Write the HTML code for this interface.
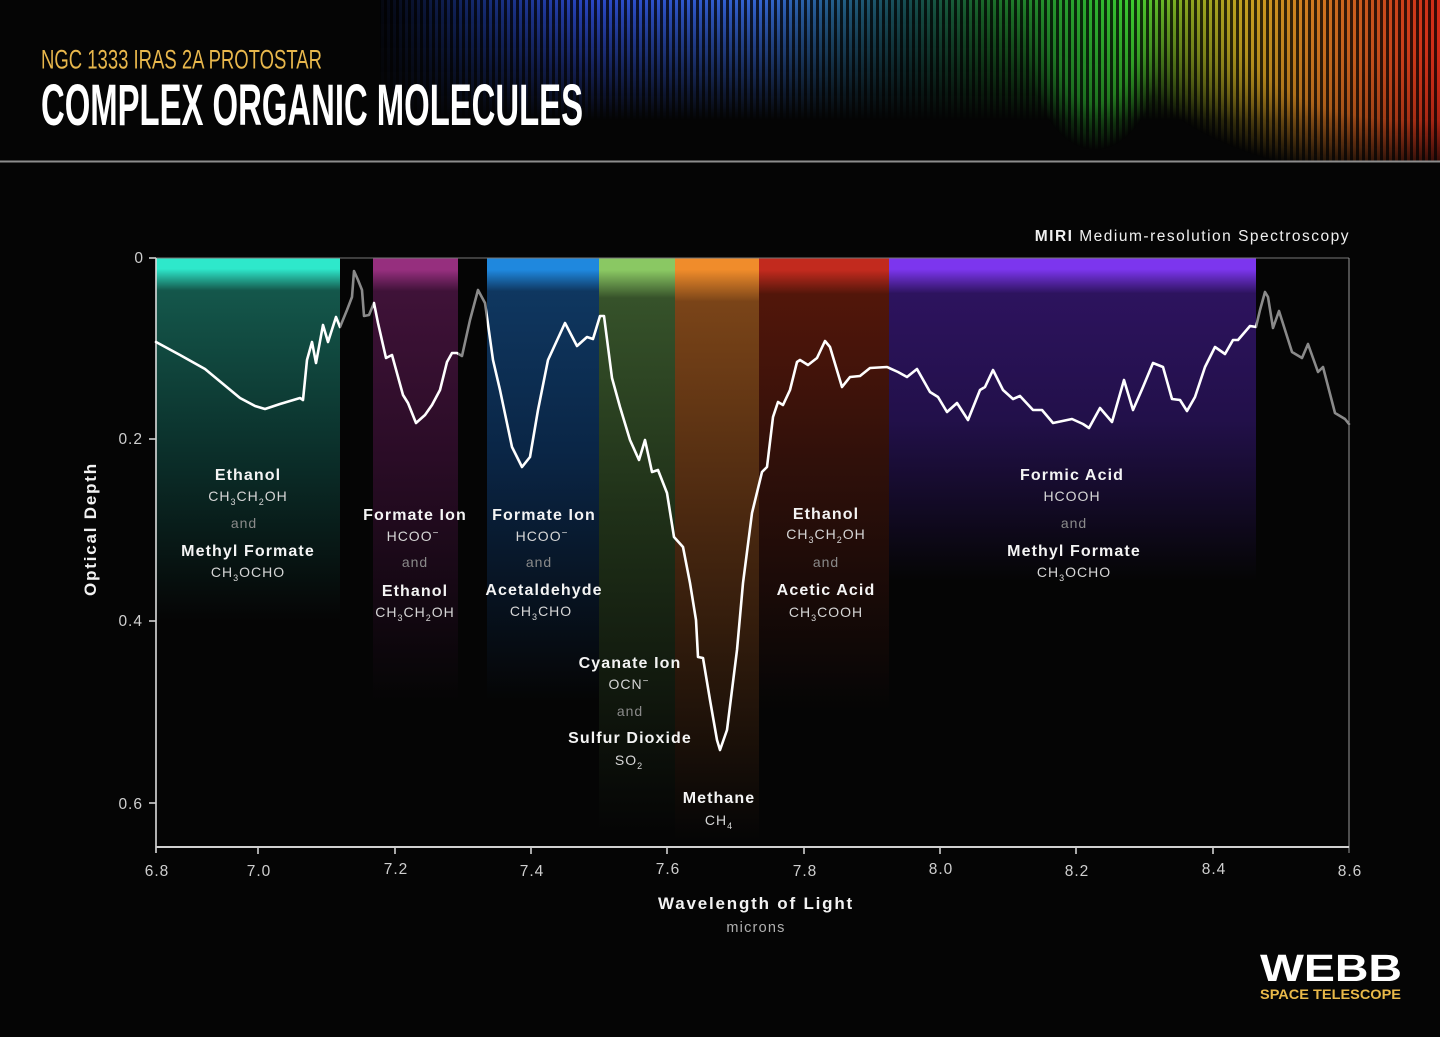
<!DOCTYPE html>
<html><head><meta charset="utf-8"><style>
html,body{margin:0;padding:0;background:#050505;}
svg{display:block;}
text{font-family:"Liberation Sans",Arial,sans-serif;}
.nm{font-size:16px;font-weight:bold;fill:#f4f4f4;letter-spacing:1.1px;text-anchor:middle;}
.fm{font-size:14px;fill:#d6d6d6;letter-spacing:1px;text-anchor:middle;}
.an{font-size:14px;fill:#8a8a8a;letter-spacing:1px;text-anchor:middle;}
.tk{font-size:15.5px;fill:#cfcfcf;letter-spacing:1px;}
</style></head><body>
<svg width="1440" height="1037" viewBox="0 0 1440 1037" xmlns="http://www.w3.org/2000/svg">
<defs>
  <linearGradient id="spec" x1="380" y1="0" x2="1440" y2="0" gradientUnits="userSpaceOnUse">
    <stop offset="0" stop-color="#05070f"/>
    <stop offset="0.09" stop-color="#142a70"/>
    <stop offset="0.2" stop-color="#2a48c8"/>
    <stop offset="0.36" stop-color="#3466d4"/>
    <stop offset="0.43" stop-color="#24608c"/>
    <stop offset="0.5" stop-color="#164e50"/>
    <stop offset="0.57" stop-color="#1a6a2a"/>
    <stop offset="0.67" stop-color="#2cb030"/>
    <stop offset="0.71" stop-color="#3ccc30"/>
    <stop offset="0.76" stop-color="#8aa820"/>
    <stop offset="0.82" stop-color="#c8a020"/>
    <stop offset="0.88" stop-color="#d27a20"/>
    <stop offset="0.94" stop-color="#c8501c"/>
    <stop offset="1" stop-color="#d42a18"/>
  </linearGradient>
  <pattern id="stripes" x="0" y="0" width="6" height="10" patternUnits="userSpaceOnUse">
    <rect x="0" y="0" width="3" height="10" fill="#000" opacity="0.75"/>
  </pattern>
  <linearGradient id="vfade" x1="0" y1="0" x2="0" y2="120" gradientUnits="userSpaceOnUse">
    <stop offset="0" stop-color="#fff" stop-opacity="1"/>
    <stop offset="0.45" stop-color="#fff" stop-opacity="0.55"/>
    <stop offset="1" stop-color="#fff" stop-opacity="0"/>
  </linearGradient>
  <radialGradient id="rg1" cx="0.5" cy="0.5" r="0.5">
    <stop offset="0" stop-color="#fff" stop-opacity="1"/>
    <stop offset="0.6" stop-color="#fff" stop-opacity="0.8"/>
    <stop offset="1" stop-color="#fff" stop-opacity="0"/>
  </radialGradient>
  <mask id="specMask" maskUnits="userSpaceOnUse" x="0" y="0" width="1440" height="161">
    <rect x="0" y="0" width="1440" height="161" fill="url(#vfade)"/>
    <ellipse cx="1420" cy="30" rx="300" ry="150" fill="url(#rg1)"/>
    <ellipse cx="1095" cy="30" rx="70" ry="120" fill="url(#rg1)" opacity="0.7"/>
  </mask>

  <linearGradient id="gTeal" x1="0" y1="258" x2="0" y2="620" gradientUnits="userSpaceOnUse">
    <stop offset="0" stop-color="#2ee8cb"/>
    <stop offset="0.03" stop-color="#2ee8cb"/>
    <stop offset="0.09" stop-color="#14574b"/>
    <stop offset="0.53" stop-color="#0b302b"/>
    <stop offset="1" stop-color="#050505"/>
  </linearGradient>
  <linearGradient id="gMag" x1="0" y1="258" x2="0" y2="700" gradientUnits="userSpaceOnUse">
    <stop offset="0" stop-color="#962f7e"/>
    <stop offset="0.027" stop-color="#962f7e"/>
    <stop offset="0.075" stop-color="#3f1238"/>
    <stop offset="0.45" stop-color="#2a0c26"/>
    <stop offset="1" stop-color="#050505"/>
  </linearGradient>
  <linearGradient id="gBlue" x1="0" y1="258" x2="0" y2="700" gradientUnits="userSpaceOnUse">
    <stop offset="0" stop-color="#1f88de"/>
    <stop offset="0.027" stop-color="#1f88de"/>
    <stop offset="0.075" stop-color="#0f3760"/>
    <stop offset="0.45" stop-color="#0a2545"/>
    <stop offset="1" stop-color="#050505"/>
  </linearGradient>
  <linearGradient id="gGreen" x1="0" y1="258" x2="0" y2="830" gradientUnits="userSpaceOnUse">
    <stop offset="0" stop-color="#8ac863"/>
    <stop offset="0.021" stop-color="#8ac863"/>
    <stop offset="0.07" stop-color="#36522a"/>
    <stop offset="0.45" stop-color="#1f3018"/>
    <stop offset="1" stop-color="#050505"/>
  </linearGradient>
  <linearGradient id="gOrange" x1="0" y1="258" x2="0" y2="840" gradientUnits="userSpaceOnUse">
    <stop offset="0" stop-color="#f08c2b"/>
    <stop offset="0.02" stop-color="#f08c2b"/>
    <stop offset="0.075" stop-color="#7a4418"/>
    <stop offset="0.45" stop-color="#4a2810"/>
    <stop offset="1" stop-color="#050505"/>
  </linearGradient>
  <linearGradient id="gRed" x1="0" y1="258" x2="0" y2="710" gradientUnits="userSpaceOnUse">
    <stop offset="0" stop-color="#c22a1e"/>
    <stop offset="0.027" stop-color="#c22a1e"/>
    <stop offset="0.08" stop-color="#52160a"/>
    <stop offset="0.45" stop-color="#30100a"/>
    <stop offset="1" stop-color="#050505"/>
  </linearGradient>
  <linearGradient id="gPurple" x1="0" y1="258" x2="0" y2="580" gradientUnits="userSpaceOnUse">
    <stop offset="0" stop-color="#7c36ee"/>
    <stop offset="0.035" stop-color="#7c36ee"/>
    <stop offset="0.11" stop-color="#2d135e"/>
    <stop offset="0.5" stop-color="#22104a"/>
    <stop offset="1" stop-color="#050505"/>
  </linearGradient>

  <clipPath id="cWhite">
    <rect x="150" y="200" width="190" height="700"/>
    <rect x="373" y="200" width="85" height="700"/>
    <rect x="487" y="200" width="769" height="700"/>
  </clipPath>
  <clipPath id="cGray">
    <rect x="340" y="200" width="33" height="700"/>
    <rect x="458" y="200" width="29" height="700"/>
    <rect x="1256" y="200" width="100" height="700"/>
  </clipPath>
</defs>

<rect x="0" y="0" width="1440" height="1037" fill="#050505"/>

<!-- header spectrum -->
<g mask="url(#specMask)">
  <rect x="380" y="0" width="1060" height="161" fill="url(#spec)"/>
  <rect x="380" y="0" width="1060" height="161" fill="url(#stripes)"/>
</g>
<rect x="0" y="160.5" width="1440" height="2" fill="#8d8d8d"/>

<text x="41" y="68.5" font-size="27" fill="#e8b74c" textLength="281" lengthAdjust="spacingAndGlyphs">NGC 1333 IRAS 2A PROTOSTAR</text>
<text x="41" y="125" font-size="58" font-weight="bold" fill="#ffffff" textLength="542" lengthAdjust="spacingAndGlyphs">COMPLEX ORGANIC MOLECULES</text>

<!-- bands -->
<rect x="156" y="258" width="184" height="600" fill="url(#gTeal)"/>
<rect x="373" y="258" width="85" height="600" fill="url(#gMag)"/>
<rect x="487" y="258" width="112" height="600" fill="url(#gBlue)"/>
<rect x="599" y="258" width="76" height="600" fill="url(#gGreen)"/>
<rect x="675" y="258" width="84" height="600" fill="url(#gOrange)"/>
<rect x="759" y="258" width="130" height="600" fill="url(#gRed)"/>
<rect x="889" y="258" width="367" height="600" fill="url(#gPurple)"/>
<rect x="156" y="846" width="1200" height="20" fill="#050505"/>

<!-- frame -->
<line x1="156" y1="258" x2="1349" y2="258" stroke="#777" stroke-width="1"/>
<line x1="1349" y1="258" x2="1349" y2="853" stroke="#999" stroke-width="1"/>
<line x1="156" y1="258" x2="156" y2="853" stroke="#dcdcdc" stroke-width="1.6"/>
<line x1="156" y1="847" x2="1349" y2="847" stroke="#d0d0d0" stroke-width="2"/>
<g stroke="#d0d0d0" stroke-width="1.6">
  <line x1="149" y1="258" x2="156" y2="258"/>
  <line x1="149" y1="439" x2="156" y2="439"/>
  <line x1="149" y1="621" x2="156" y2="621"/>
  <line x1="149" y1="803" x2="156" y2="803"/>
  <line x1="258" y1="847" x2="258" y2="854"/>
  <line x1="395" y1="847" x2="395" y2="854"/>
  <line x1="531" y1="847" x2="531" y2="854"/>
  <line x1="667" y1="847" x2="667" y2="854"/>
  <line x1="804" y1="847" x2="804" y2="854"/>
  <line x1="940" y1="847" x2="940" y2="854"/>
  <line x1="1076" y1="847" x2="1076" y2="854"/>
  <line x1="1213" y1="847" x2="1213" y2="854"/>
</g>

<!-- y tick labels -->
<g class="tk" text-anchor="end">
  <text x="144" y="263">0</text>
  <text x="143" y="444">0.2</text>
  <text x="143" y="626">0.4</text>
  <text x="143" y="809">0.6</text>
</g>
<!-- x tick labels -->
<g class="tk" text-anchor="middle">
  <text x="157" y="876">6.8</text>
  <text x="259" y="876">7.0</text>
  <text x="396" y="874">7.2</text>
  <text x="532" y="876">7.4</text>
  <text x="668" y="874">7.6</text>
  <text x="805" y="876">7.8</text>
  <text x="941" y="874">8.0</text>
  <text x="1077" y="876">8.2</text>
  <text x="1214" y="874">8.4</text>
  <text x="1350" y="876">8.6</text>
</g>

<text transform="translate(96,529) rotate(-90)" x="0" y="0" text-anchor="middle" font-size="17" font-weight="bold" fill="#f2f2f2" letter-spacing="1.8">Optical Depth</text>
<text x="756" y="909" text-anchor="middle" font-size="17" font-weight="bold" fill="#f2f2f2" letter-spacing="1.8">Wavelength of Light</text>
<text x="756" y="932" text-anchor="middle" font-size="14.5" fill="#b0b0b0" letter-spacing="1.2">microns</text>

<text x="1350" y="241" text-anchor="end" font-size="15.5" fill="#f0f0f0" letter-spacing="1.5"><tspan font-weight="bold">MIRI</tspan> Medium-resolution Spectroscopy</text>

<!-- curve -->
<g fill="none" stroke-width="2.6" stroke-linejoin="round" stroke-linecap="round">
<polyline clip-path="url(#cWhite)" stroke="#ffffff" points="156,342 180,355 205,369 240,398 255,406 265,409 280,404 300,398 303,400 307,360 312,342 316,363 323,325 328,342 336,317 340,327 347,310 352,297 354,271 358,280 362,290 364,316 369,315 374,303 378,323 386,358 392,355 403,395 408,403 416,423 425,415 432,405 440,390 447,362 452,353 457,353 462,356 470,320 478,290 485,303 487,317 493,360 500,390 512,447 522,467 530,457 538,410 548,360 565,323 577,346 587,337 593,339 600,316 604,316 612,378 620,407 630,440 639,460 645,440 652,472 658,470 667,493 674,537 683,547 690,583 696,620 698,657 703,658 710,700 717,740 720,750 727,730 737,650 743,583 752,513 762,472 767,467 773,417 778,402 783,405 790,390 797,362 800,360 808,365 817,358 825,341 830,347 842,387 850,377 860,376 870,368 887,367 898,372 907,377 917,369 930,392 938,397 947,412 957,403 968,420 980,390 985,387 993,370 1003,390 1013,399 1020,396 1033,410 1042,410 1053,423 1072,419 1083,424 1089,428 1100,408 1112,422 1124,380 1133,410 1143,387 1153,363 1163,367 1172,399 1180,400 1187,411 1195,397 1205,367 1215,347 1225,354 1233,340 1238,340 1250,326 1256,327 1260,310 1265,292 1268,297 1273,328 1279,311 1292,352 1302,358 1308,344 1318,372 1323,367 1335,413 1345,419 1349,424"/>
<polyline clip-path="url(#cGray)" stroke="#8a8a8a" points="156,342 180,355 205,369 240,398 255,406 265,409 280,404 300,398 303,400 307,360 312,342 316,363 323,325 328,342 336,317 340,327 347,310 352,297 354,271 358,280 362,290 364,316 369,315 374,303 378,323 386,358 392,355 403,395 408,403 416,423 425,415 432,405 440,390 447,362 452,353 457,353 462,356 470,320 478,290 485,303 487,317 493,360 500,390 512,447 522,467 530,457 538,410 548,360 565,323 577,346 587,337 593,339 600,316 604,316 612,378 620,407 630,440 639,460 645,440 652,472 658,470 667,493 674,537 683,547 690,583 696,620 698,657 703,658 710,700 717,740 720,750 727,730 737,650 743,583 752,513 762,472 767,467 773,417 778,402 783,405 790,390 797,362 800,360 808,365 817,358 825,341 830,347 842,387 850,377 860,376 870,368 887,367 898,372 907,377 917,369 930,392 938,397 947,412 957,403 968,420 980,390 985,387 993,370 1003,390 1013,399 1020,396 1033,410 1042,410 1053,423 1072,419 1083,424 1089,428 1100,408 1112,422 1124,380 1133,410 1143,387 1153,363 1163,367 1172,399 1180,400 1187,411 1195,397 1205,367 1215,347 1225,354 1233,340 1238,340 1250,326 1256,327 1260,310 1265,292 1268,297 1273,328 1279,311 1292,352 1302,358 1308,344 1318,372 1323,367 1335,413 1345,419 1349,424"/>
</g>

<!-- labels: teal -->
<text class="nm" x="248" y="480">Ethanol</text>
<text class="fm" x="248" y="501">CH<tspan font-size="9" dy="4">3</tspan><tspan dy="-4">CH</tspan><tspan font-size="9" dy="4">2</tspan><tspan dy="-4">OH</tspan></text>
<text class="an" x="244" y="528">and</text>
<text class="nm" x="248" y="556">Methyl Formate</text>
<text class="fm" x="248" y="577">CH<tspan font-size="9" dy="4">3</tspan><tspan dy="-4">OCHO</tspan></text>

<!-- magenta -->
<text class="nm" x="415" y="520">Formate Ion</text>
<text class="fm" x="413" y="541">HCOO<tspan font-size="10" dy="-5">−</tspan></text>
<text class="an" x="415" y="567">and</text>
<text class="nm" x="415" y="596">Ethanol</text>
<text class="fm" x="415" y="617">CH<tspan font-size="9" dy="4">3</tspan><tspan dy="-4">CH</tspan><tspan font-size="9" dy="4">2</tspan><tspan dy="-4">OH</tspan></text>

<!-- blue -->
<text class="nm" x="544" y="520">Formate Ion</text>
<text class="fm" x="542" y="541">HCOO<tspan font-size="10" dy="-5">−</tspan></text>
<text class="an" x="539" y="567">and</text>
<text class="nm" x="544" y="595">Acetaldehyde</text>
<text class="fm" x="541" y="616">CH<tspan font-size="9" dy="4">3</tspan><tspan dy="-4">CHO</tspan></text>

<!-- green -->
<text class="nm" x="630" y="668">Cyanate Ion</text>
<text class="fm" x="629" y="689">OCN<tspan font-size="10" dy="-5">−</tspan></text>
<text class="an" x="630" y="716">and</text>
<text class="nm" x="630" y="743">Sulfur Dioxide</text>
<text class="fm" x="629" y="765">SO<tspan font-size="9" dy="4">2</tspan></text>

<!-- orange -->
<text class="nm" x="719" y="803">Methane</text>
<text class="fm" x="719" y="825">CH<tspan font-size="9" dy="4">4</tspan></text>

<!-- red -->
<text class="nm" x="826" y="519">Ethanol</text>
<text class="fm" x="826" y="539">CH<tspan font-size="9" dy="4">3</tspan><tspan dy="-4">CH</tspan><tspan font-size="9" dy="4">2</tspan><tspan dy="-4">OH</tspan></text>
<text class="an" x="826" y="567">and</text>
<text class="nm" x="826" y="595">Acetic Acid</text>
<text class="fm" x="826" y="617">CH<tspan font-size="9" dy="4">3</tspan><tspan dy="-4">COOH</tspan></text>

<!-- purple -->
<text class="nm" x="1072" y="480">Formic Acid</text>
<text class="fm" x="1072" y="501">HCOOH</text>
<text class="an" x="1074" y="528">and</text>
<text class="nm" x="1074" y="556">Methyl Formate</text>
<text class="fm" x="1074" y="577">CH<tspan font-size="9" dy="4">3</tspan><tspan dy="-4">OCHO</tspan></text>

<!-- Webb logo -->
<text x="1260" y="981" font-size="38" font-weight="bold" fill="#ffffff" textLength="142" lengthAdjust="spacingAndGlyphs">WEBB</text>
<text x="1260" y="999" font-size="14" font-weight="bold" fill="#e9b949" textLength="141" lengthAdjust="spacingAndGlyphs">SPACE TELESCOPE</text>
</svg>
</body></html>
